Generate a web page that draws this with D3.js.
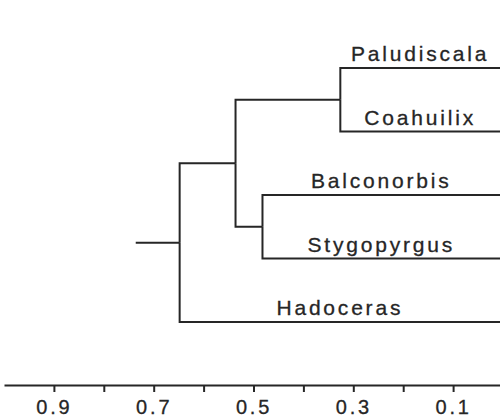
<!DOCTYPE html>
<html>
<head>
<meta charset="utf-8">
<script src="https://cdn.jsdelivr.net/npm/d3@7"></script>
<style>
  body { margin: 0; background: #fff; }
  svg { display: block; }
  .branch { fill: none; stroke: #262626; stroke-width: 2; }
  .taxon { font-family: "Liberation Sans", Arial, sans-serif; font-size: 21px; letter-spacing: 2.8px; fill: #262626; stroke: #262626; stroke-width: 0.3; }
  .axis_x text { font-family: "Liberation Sans", Arial, sans-serif; font-size: 20px; letter-spacing: 2.8px; fill: #262626; stroke: #262626; stroke-width: 0.3; }
  .axis_x path, .axis_x line { stroke: #262626; stroke-width: 2; }
</style>
</head>
<body>
<script>
/* DATA */
// leaves, top to bottom
var taxa = ["Paludiscala", "Coahuilix", "Balconorbis", "Stygopyrgus", "Hadoceras"];
// merges like hclust: negative = taxon (1-based), positive = earlier merge
var mergeA = [-1, -3, 1, 3];
var mergeB = [-2, -4, 2, -5];
var mergeHeight = [0.326, 0.482, 0.536, 0.648];
var rootStem = 0.736;
// axis
var tickValues = [0.9, 0.8, 0.7, 0.6, 0.5, 0.4, 0.3, 0.2, 0.1];
var tickLabels = [0.9, 0.7, 0.5, 0.3, 0.1];

/* GLOBALS */
var width = 500;
var height = 419;
var top_leaf = 68, bottom_leaf = 322;

function buildTree () {
  var nodes = [];
  function pick (i) {
    if (i < 0) return { name: taxa[-i - 1], h: 0 };
    return nodes[i - 1];
  }
  mergeA.forEach(function (a, i) {
    nodes.push({ h: mergeHeight[i], children: [pick(a), pick(mergeB[i])] });
  });
  return nodes[nodes.length - 1];
}

function main () {
  var svg = d3.select('body').append('svg')
    .attr('width', width)
    .attr('height', height);

  // distance scale (reads right to left)
  var x = d3.scaleLinear()
    .domain([1.0, 0])
    .range([4, 503]);

  var root = d3.hierarchy(buildTree());

  // cluster pads half a step at each end, so widen by one step
  var step = (bottom_leaf - top_leaf) / (taxa.length - 1);
  d3.cluster()
    .size([step * taxa.length, 1])
    .separation(function () { return 1; })(root);

  var g = svg.append('g')
    .attr('transform', 'translate(0,' + (top_leaf - step / 2) + ')');

  function xpos (d) { return d.children ? x(d.data.h) : width; }

  // branches: vertical bar at node, horizontal arm to each child
  var paths = [];
  root.each(function (d) {
    if (!d.children) return;
    var nx = x(d.data.h);
    d.children.forEach(function (c) {
      paths.push('M' + nx + ',' + d.x + 'V' + c.x + 'H' + xpos(c));
    });
  });
  // root stem
  paths.push('M' + x(rootStem) + ',' + root.x + 'H' + x(root.data.h));

  g.selectAll('.branch')
    .data(paths)
    .enter().append('path')
    .attr('class', 'branch')
    .attr('d', function (d) { return d; });

  // taxon labels above their leaf arms
  g.selectAll('.taxon')
    .data(root.leaves())
    .enter().append('text')
    .attr('class', 'taxon')
    .attr('text-anchor', 'middle')
    .attr('x', function (d) { return (x(d.parent.data.h) + width) / 2; })
    .attr('y', function (d) { return d.x - 7; })
    .text(function (d) { return d.data.name; });

  // X-Axis
  var axis = svg.append('g')
    .attr('class', 'axis_x')
    .attr('transform', 'translate(0,385)')
    .call(d3.axisBottom(x)
      .tickValues(tickValues)
      .tickSize(7)
      .tickSizeOuter(0)
      .tickFormat(function (v) { return tickLabels.indexOf(v) >= 0 ? d3.format('.1f')(v) : ''; }));

  axis.selectAll('text').attr('y', 15);
}

window.addEventListener('load', main);
</script>
</body>
</html>
